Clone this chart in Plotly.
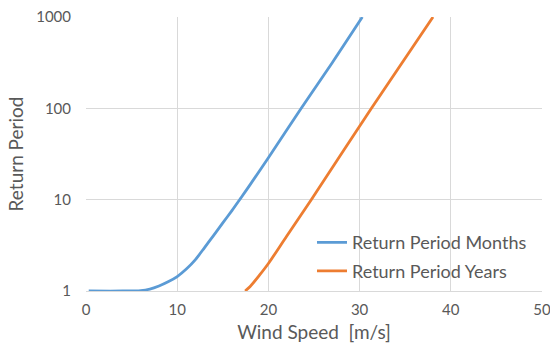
import plotly.graph_objects as go

# Wind speed [m/s] and return period values
months_speed = [0.3, 4, 6, 7, 8, 9, 10, 11, 12, 13, 14, 15, 16, 17, 18, 20, 23.6, 27, 30.3]
months_period = [1.0, 1.0, 1.01, 1.05, 1.135, 1.26, 1.44, 1.74, 2.21, 2.99, 4.07, 5.56, 7.59, 10.5, 14.6, 28.8, 100, 316, 1000]

years_speed = [17.45, 18, 19, 20, 22, 24.7, 31.3, 38.05]
years_period = [1.0, 1.12, 1.48, 2.0, 3.98, 10, 100, 1000]

x_ticks = [0, 10, 20, 30, 40, 50]
y_ticks = [1, 10, 100, 1000]
y_tick_text = ["1", "10", "100", "1000"]

FONT = "Lato"
TXT = "#595959"
GRID = "#D9D9D9"

fig = go.Figure()
fig.add_trace(go.Scatter(x=months_speed, y=months_period, mode="lines",
                         name="Return Period Months", legendgroup="m",
                         line=dict(color="#5B9BD5", width=2.8, shape="spline", smoothing=0.8)))
fig.add_trace(go.Scatter(x=years_speed, y=years_period, mode="lines",
                         name="Return Period Years", legendgroup="y",
                         line=dict(color="#ED7D31", width=2.8, shape="spline", smoothing=0.8)))

fig.update_layout(
    width=550, height=343,
    margin=dict(l=86, r=8, t=17, b=52),
    paper_bgcolor="white", plot_bgcolor="white",
    font=dict(family=FONT, size=15, color=TXT),
    showlegend=True,
    legend=dict(x=0.4956, y=0.125, xanchor="left", yanchor="middle",
                bgcolor="rgba(0,0,0,0)", font=dict(size=18, color=TXT),
                traceorder="grouped", tracegroupgap=2, itemwidth=30),
    xaxis=dict(range=[0, 50.001], tickvals=x_ticks, showgrid=True, gridcolor=GRID, gridwidth=1,
               zeroline=False, showline=True, linecolor=GRID, linewidth=1, automargin=False,
               ticks="", ticklabelstandoff=5, ticklabeloverflow="allow",
               tickfont=dict(size=15, color=TXT),
               title=dict(text="Wind Speed  [m/s]", font=dict(size=19, color=TXT), standoff=12)),
    yaxis=dict(type="log", range=[0, 3], tickvals=y_ticks, ticktext=y_tick_text,
               showgrid=True, gridcolor=GRID, gridwidth=1, zeroline=False, automargin=False,
               showline=False, ticks="", ticklabelstandoff=14,
               tickfont=dict(size=15, color=TXT),
               title=dict(text="Return Period", font=dict(size=19, color=TXT), standoff=7)),
)

fig.write_html("out.html")
